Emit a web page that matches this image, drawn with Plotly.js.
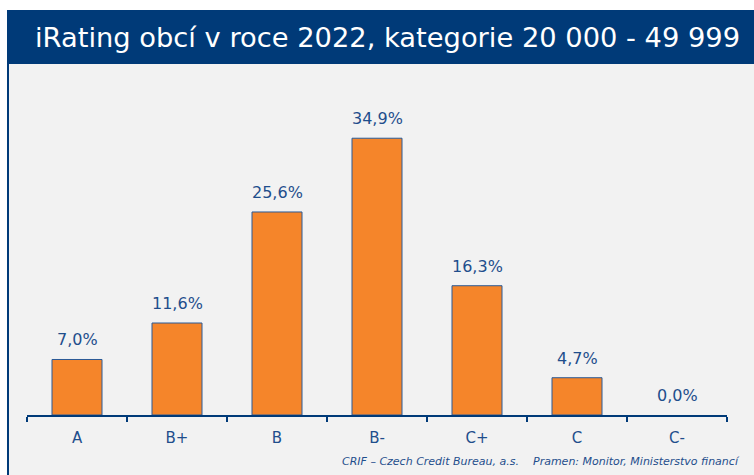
<!DOCTYPE html>
<html>
<head>
<meta charset="utf-8">
<script src="https://cdn.plot.ly/plotly-3.0.1.min.js"></script>
<style>html,body{margin:0;padding:0;background:#fff;}#chart{width:754px;height:475px;}</style>
</head>
<body>
<div id="chart"></div>
<script>
var categories = ["A", "B+", "B", "B-", "C+", "C", "C-"];
var values = [7.0, 11.6, 25.6, 34.9, 16.3, 4.7, 0.0];
var titleText = "iRating obcí v roce 2022, kategorie 20 000 - 49 999";
var sourceLeft = "CRIF – Czech Credit Bureau, a.s.";
var sourceRight = "Pramen: Monitor, Ministerstvo financí";

var navy = "#003a78";
var textBlue = "#1f4e8c";

function fmt(v) { return v.toFixed(1).replace(".", ",") + "%"; }

var trace = {
  type: "bar",
  x: categories,
  y: values,
  width: 0.5,
  marker: {
    color: "#f5852a",
    line: { color: "#2a5a96", width: values.map(function (v) { return v > 0 ? 1 : 0; }) }
  },
  hoverinfo: "none"
};

var annotations = categories.map(function (c, i) {
  return {
    x: c, y: values[i], xref: "x", yref: "y",
    text: fmt(values[i]), showarrow: false,
    yanchor: "bottom", yshift: 8,
    font: { family: "DejaVu Sans", size: 16, color: textBlue }
  };
});

annotations.push({
  xref: "paper", yref: "paper", x: 0.5157, y: 1.2,
  text: titleText, showarrow: false, xanchor: "center", yanchor: "middle",
  font: { family: "DejaVu Sans", size: 27.3, color: "#ffffff" }
});
annotations.push({
  xref: "paper", yref: "paper", x: 0.447, y: -0.149,
  text: "<i>" + sourceLeft + "</i>", showarrow: false, xanchor: "left", yanchor: "middle",
  font: { family: "DejaVu Sans", size: 11, color: textBlue }
});
annotations.push({
  xref: "paper", yref: "paper", x: 0.7205, y: -0.149,
  text: "<i>" + sourceRight + "</i>", showarrow: false, xanchor: "left", yanchor: "middle",
  font: { family: "DejaVu Sans", size: 11, color: textBlue }
});

var layout = {
  width: 754, height: 475,
  margin: { l: 27, r: 27, t: 100, b: 60, pad: 0 },
  paper_bgcolor: "#ffffff",
  plot_bgcolor: "rgba(0,0,0,0)",
  showlegend: false,
  bargap: 0.5,
  xaxis: {
    type: "category",
    tickson: "boundaries",
    ticks: "outside", ticklen: 5, tickwidth: 2, tickcolor: navy,
    showline: true, linecolor: navy, linewidth: 2,
    showgrid: false, zeroline: false,
    ticklabelstandoff: 8,
    tickfont: { family: "DejaVu Sans", size: 15, color: textBlue },
    fixedrange: true
  },
  yaxis: {
    range: [0, 39.72], visible: false, showgrid: false, zeroline: false, fixedrange: true
  },
  shapes: [
    { type: "rect", xref: "paper", yref: "paper", layer: "below",
      x0: (7 - 27) / 700, x1: (760 - 27) / 700, y0: (415 - 480) / 315, y1: (415 - 10) / 315,
      fillcolor: "#f2f2f2", line: { width: 0 } },
    { type: "rect", xref: "paper", yref: "paper", layer: "below",
      x0: (7 - 27) / 700, x1: (760 - 27) / 700, y0: (415 - 64) / 315, y1: (415 - 10) / 315,
      fillcolor: navy, line: { width: 0 } },
    { type: "rect", xref: "paper", yref: "paper", layer: "below",
      x0: (7 - 27) / 700, x1: (9 - 27) / 700, y0: (415 - 480) / 315, y1: (415 - 10) / 315,
      fillcolor: navy, line: { width: 0 } }
  ],
  annotations: annotations
};

Plotly.newPlot("chart", [trace], layout, { displayModeBar: false, staticPlot: true });
</script>
</body>
</html>
